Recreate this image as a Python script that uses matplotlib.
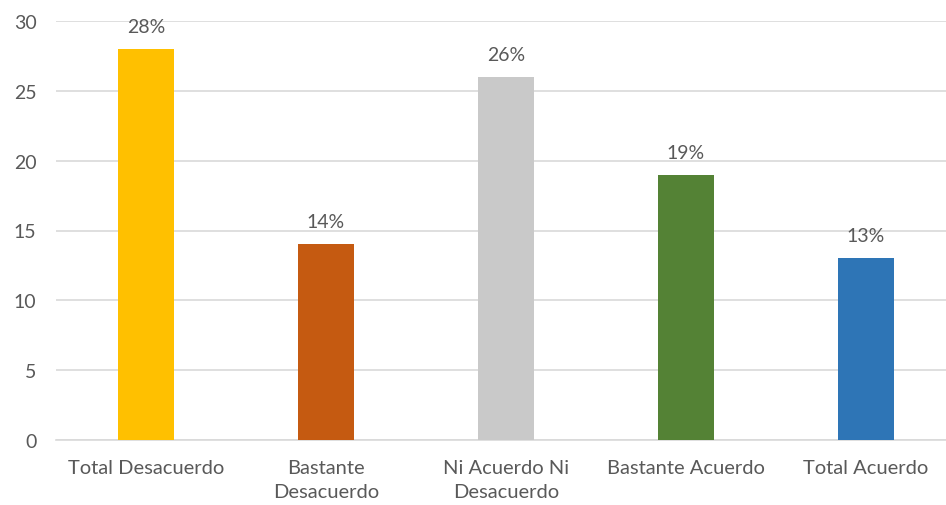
import matplotlib
matplotlib.use("Agg")
import matplotlib.pyplot as plt

categories = ["Total Desacuerdo", "Bastante\nDesacuerdo", "Ni Acuerdo Ni\nDesacuerdo", "Bastante Acuerdo", "Total Acuerdo"]
values = [28, 14, 26, 19, 13]
labels = ["28%", "14%", "26%", "19%", "13%"]
colors = ["#FFC000", "#C55A11", "#C9C9C9", "#548235", "#2E75B6"]

plt.rcParams['font.family'] = ['Lato', 'DejaVu Sans']
W, H = 946, 506
fig = plt.figure(figsize=(W/100, H/100), dpi=100)
ax = fig.add_axes([56/W, (H-441)/H, (W-56)/W, (441-22)/H])

x = range(len(categories))
bars = ax.bar(x, values, width=0.31, color=colors, zorder=3)
for b, lab in zip(bars, labels):
    ax.annotate(lab, (b.get_x()+b.get_width()/2, b.get_height()), xytext=(0, 14),
                textcoords='offset pixels', ha='center', va='bottom', fontsize=14, color='#595959')

ax.set_ylim(0, 30)
ax.set_yticks(range(0, 31, 5))
ax.set_xlim(-0.5, 4.5 - 10/180)
ax.set_xticks(list(x))
ax.set_xticklabels(categories, fontsize=14.5, color='#595959', linespacing=1.5)
ax.tick_params(axis='y', labelsize=14, colors='#595959', length=0, pad=14)
ax.tick_params(axis='x', length=0, pad=14)
ax.grid(axis='y', color='#D9D9D9', linewidth=1.2, zorder=0)
for s in ['top', 'right', 'left']:
    ax.spines[s].set_visible(False)
ax.spines['bottom'].set_color('#D9D9D9')
ax.spines['bottom'].set_linewidth(1.2)

fig.savefig("out.png", dpi=100)
